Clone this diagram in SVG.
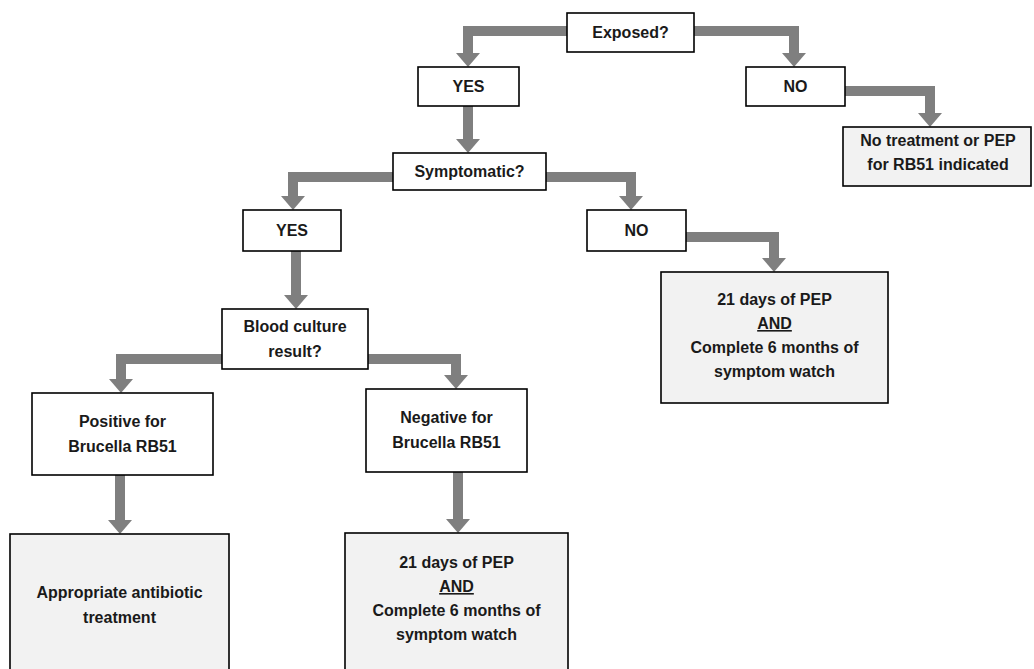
<svg xmlns="http://www.w3.org/2000/svg" width="1034" height="669" viewBox="0 0 1034 669">
<style>
.q{fill:#ffffff;stroke:#000000;stroke-width:1.6}
.r{fill:#f2f2f2;stroke:#000000;stroke-width:1.6}
.t{font-family:"Liberation Sans",Arial,sans-serif;font-weight:bold;font-size:16px;fill:#1a1a1a;text-anchor:middle}
.c{fill:none;stroke:#7f7f7f;stroke-width:10;stroke-linejoin:miter;marker-end:url(#ah)}
</style>
<defs>
<marker id="ah" markerUnits="userSpaceOnUse" viewBox="0 0 14 24" markerWidth="14" markerHeight="24" refX="0" refY="12" orient="auto">
<path d="M0,0 L14,12 L0,24 Z" fill="#7f7f7f"/>
</marker>
</defs>
<rect width="1034" height="669" fill="#ffffff"/>
<g id="connectors">
<path class="c" d="M567,31 H468 V53"/>
<path class="c" d="M694,31 H794 V53"/>
<path class="c" d="M845,91 H930 V113"/>
<path class="c" d="M468,106 V139"/>
<path class="c" d="M393,177 H293 V196"/>
<path class="c" d="M546,177 H631 V196"/>
<path class="c" d="M686,237 H774 V258"/>
<path class="c" d="M296,251 V295"/>
<path class="c" d="M222,359 H121 V379"/>
<path class="c" d="M368,359 H456 V375"/>
<path class="c" d="M120,475 V520"/>
<path class="c" d="M458,472 V519"/>
</g>
<g id="exposed"><rect class="q" x="567" y="13" width="127" height="39"/><text class="t" x="630.5" y="38">Exposed?</text></g>
<g id="yes1"><rect class="q" x="418" y="67" width="101" height="39"/><text class="t" x="468.5" y="92">YES</text></g>
<g id="no1"><rect class="q" x="746" y="67" width="99" height="39"/><text class="t" x="795.5" y="92">NO</text></g>
<g id="notreat"><rect class="r" x="843" y="127" width="188" height="59"/><text class="t" x="938" y="146">No treatment or PEP</text><text class="t" x="938" y="170">for RB51 indicated</text></g>
<g id="symptomatic"><rect class="q" x="393" y="153" width="153" height="37"/><text class="t" x="469.5" y="177">Symptomatic?</text></g>
<g id="yes2"><rect class="q" x="243" y="210" width="98" height="41"/><text class="t" x="292" y="236">YES</text></g>
<g id="no2"><rect class="q" x="587" y="210" width="99" height="41"/><text class="t" x="636.5" y="236">NO</text></g>
<g id="pep1"><rect class="r" x="661" y="272" width="227" height="131"/>
<text class="t" x="774.5" y="305">21 days of PEP</text>
<text class="t" x="774.5" y="329" text-decoration="underline">AND</text>
<text class="t" x="774.5" y="353">Complete 6 months of</text>
<text class="t" x="774.5" y="377">symptom watch</text></g>
<g id="blood"><rect class="q" x="222" y="309" width="146" height="60"/><text class="t" x="295" y="332">Blood culture</text><text class="t" x="295" y="357">result?</text></g>
<g id="positive"><rect class="q" x="32" y="393" width="181" height="82"/><text class="t" x="122.5" y="427">Positive for</text><text class="t" x="122.5" y="452">Brucella RB51</text></g>
<g id="negative"><rect class="q" x="366" y="389" width="161" height="83"/><text class="t" x="446.5" y="423">Negative for</text><text class="t" x="446.5" y="448">Brucella RB51</text></g>
<g id="antibiotic"><rect class="r" x="10" y="534" width="219" height="145"/><text class="t" x="119.5" y="598">Appropriate antibiotic</text><text class="t" x="119.5" y="623">treatment</text></g>
<g id="pep2"><rect class="r" x="345" y="533" width="223" height="146"/>
<text class="t" x="456.5" y="568">21 days of PEP</text>
<text class="t" x="456.5" y="592" text-decoration="underline">AND</text>
<text class="t" x="456.5" y="616">Complete 6 months of</text>
<text class="t" x="456.5" y="640">symptom watch</text></g>
</svg>
